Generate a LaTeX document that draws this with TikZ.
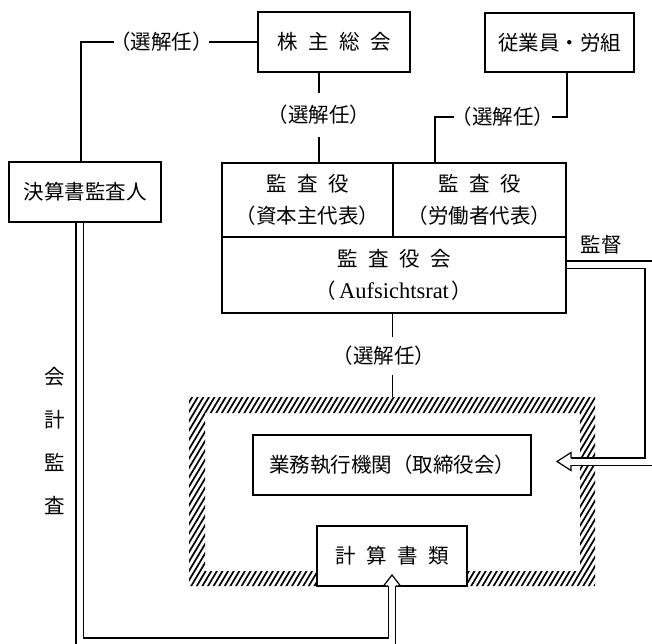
\documentclass[tikz,border=0pt]{standalone}
\usepackage{fontspec}
\newfontfamily\jp{Noto Sans CJK JP}
\newfontfamily\lat{Liberation Serif}
\usetikzlibrary{calc}
\newcommand\gap{\hspace{10.5pt}}
\newcommand\jpf{\jp\fontsize{20.5pt}{32pt}\selectfont}
\begin{document}
\begin{tikzpicture}[x=1pt,y=-1pt,
  box/.style={draw, line width=1.2pt, inner sep=0pt, outer sep=0pt, fill=white, font=\jpf, align=center},
  lab/.style={fill=white, inner sep=0pt, font=\jpf},
  ln/.style={line width=1.2pt},
  dbl/.style={line width=1.2pt, double, double distance=6pt},
  hatchline/.style={line width=1.7pt}]
\fill[white] (0,0) rectangle (652,643);
\useasboundingbox (0,0) rectangle (652,643);
\clip (0,0) rectangle (652,643);

% hatched frame
\begin{scope}[even odd rule]
\clip (189,397) rectangle (595,586) (205,413) rectangle (580,571);
\foreach \i in {0,...,110} \draw[hatchline] ({70+\i*5.6},592) -- ({70+\i*5.6+119},393);
\end{scope}

% boxes
\node[box, minimum width=152pt, minimum height=60pt] (soukai) at (334,42) {株\gap 主\gap 総\gap 会};
\node[box, minimum width=149pt, minimum height=59pt] (jugyoin) at (559.5,42.5) {従業員・労組};
\node[box, minimum width=152pt, minimum height=60pt] (ketsu) at (85,192) {決算書監査人};
\node[box, minimum width=171pt, minimum height=74pt] (kA) at (307.5,200) {監\gap 査\gap 役\\（資本主代表）};
\node[box, minimum width=173pt, minimum height=74pt] (kB) at (479.5,200) {監\gap 査\gap 役\\（労働者代表）};
\node[box, minimum width=344pt, minimum height=76pt] (kai) at (394,275) {監\gap 査\gap 役\gap 会\\（\hspace{3pt}{\lat\fontsize{22.5pt}{24pt}\selectfont Aufsichtsrat}\hspace{3pt}）};
\node[box, minimum width=278pt, minimum height=60pt] (gyomu) at (392,465) {業務執行機関（取締役会）};
\node[box, minimum width=150pt, minimum height=60pt] (keisan) at (392,556) {計\gap 算\gap 書\gap 類};

% selection lines
\coordinate (c1) at (81,42);
\draw[ln] (soukai.west) -- (c1) -- (c1 |- ketsu.north);
\node[lab, inner xsep=-4pt] (l1) at (161.5,42) {（選解任）};

\coordinate (c2) at (319,115);
\draw[ln] (c2 |- soukai.south) -- (c2 |- kA.north);
\node[lab, inner ysep=12pt] (l2) at (c2) {（選解任）};

\coordinate (c3) at (567,117);
\coordinate (c4) at (435,117);
\draw[ln] (c3 |- jugyoin.south) -- (c3) -- (c4) -- (c4 |- kB.north);
\node[lab, inner xsep=-2.5pt] (l3) at (503,117) {（選解任）};

\coordinate (c5) at (392.5,397);
\draw[ln] (c5 |- kai.south) -- (c5);
\node[lab, inner ysep=9pt] (l4) at (384,356) {（選解任）};

% supervision
\node[font=\jpf] (kantoku) at (601,245) {監督};
\coordinate (r1) at (648.5,264.5);
\coordinate (r2) at (648.5,461.5);
\coordinate (ah) at (571,461.5);
\draw[dbl] ($(kai.east |- r1)+(1,0)$) -- (r1) -- (r2) -- (ah);
\fill[white] (571,452.5) -- (557,461.5) -- (571,470.5) -- cycle;
\draw[ln] (571,457.9) -- (571,452.5) -- (557,461.5) -- (571,470.5) -- (571,465.1);

% accounting audit
\node[font=\jp\fontsize{20.5pt}{42.7pt}\selectfont, align=center] (kaikei) at (55,441) {会\\計\\監\\査};
\coordinate (b1) at (79.5,222.8);
\coordinate (b2) at (79.5,641.5);
\draw[dbl] (b1) -- (b2) -- (b2 -| keisan.south) -- (keisan.south);
\fill[white] (383.5,586) -- (392,575) -- (400.5,586) -- cycle;
\draw[ln] (388.4,586) -- (383.5,586) -- (392,575) -- (400.5,586) -- (395.6,586);
\end{tikzpicture}
\end{document}
